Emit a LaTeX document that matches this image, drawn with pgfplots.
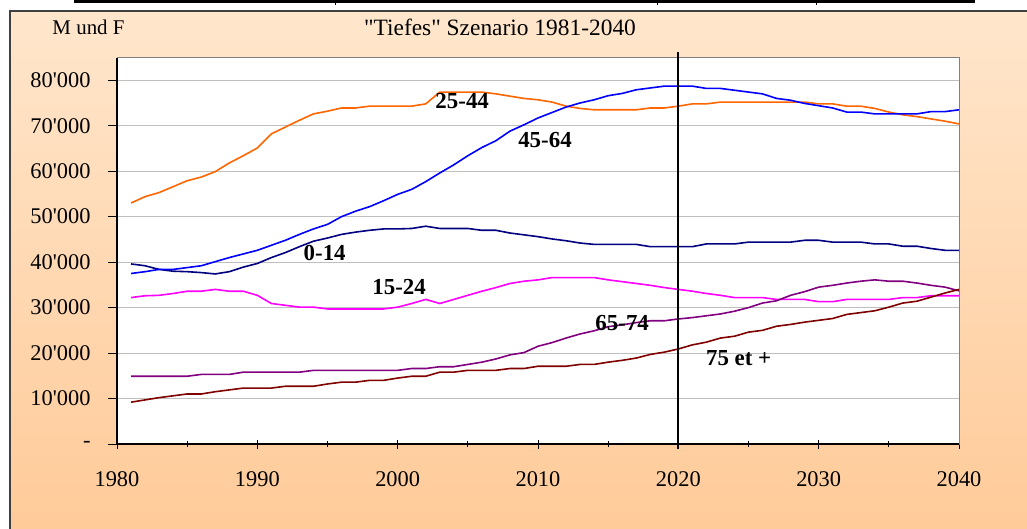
\documentclass[border=0pt]{standalone}
\usepackage{pgfplots}
\pgfplotsset{compat=1.18}
\usepackage{pgfplotstable}
\usepackage{fontspec}
\setmainfont{Liberation Serif}
\newfontfamily\plainfont{Liberation Serif}
\usetikzlibrary{shadings}
\definecolor{peachtop}{HTML}{FFE6CC}
\definecolor{peachbot}{HTML}{FFCA98}
\definecolor{cOrange}{HTML}{FF6600}
\definecolor{cBlue}{HTML}{0000FF}
\definecolor{cNavy}{HTML}{000080}
\definecolor{cMag}{HTML}{FF00FF}
\definecolor{cPurp}{HTML}{800080}
\definecolor{cRed}{HTML}{800000}

\pgfplotstableread{
year a b c d e f
1981 39600 32200 53000 37500 14900 9200
1982 39200 32600 54400 37900 14900 9700
1983 38400 32700 55300 38400 14900 10200
1984 38000 33100 56600 38400 14900 10600
1985 37900 33600 57900 38800 14900 11000
1986 37700 33600 58700 39200 15300 11000
1987 37400 34000 59900 40100 15300 11500
1988 37900 33600 61800 41000 15300 11900
1989 38900 33600 63400 41800 15800 12300
1990 39700 32700 65100 42600 15800 12300
1991 41000 30900 68200 43700 15800 12300
1992 42100 30500 69700 44800 15800 12700
1993 43400 30100 71200 46100 15800 12700
1994 44600 30100 72600 47300 16200 12700
1995 45300 29700 73200 48300 16200 13200
1996 46100 29700 73900 50000 16200 13600
1997 46600 29700 73900 51200 16200 13600
1998 47000 29700 74300 52200 16200 14000
1999 47300 29700 74300 53500 16200 14000
2000 47300 30100 74300 54900 16200 14500
2001 47400 30900 74300 56000 16600 14900
2002 47900 31800 74800 57700 16600 14900
2003 47400 30900 77400 59600 17000 15800
2004 47400 31800 77400 61400 17000 15800
2005 47400 32700 77400 63400 17500 16200
2006 47000 33600 77400 65200 18000 16200
2007 47000 34400 77000 66700 18700 16200
2008 46400 35300 76500 68800 19600 16600
2009 46000 35800 76000 70200 20100 16600
2010 45600 36100 75700 71700 21500 17100
2011 45100 36600 75200 72900 22300 17100
2012 44700 36600 74300 74100 23300 17100
2013 44200 36600 73800 75000 24200 17500
2014 43900 36600 73500 75700 24900 17500
2015 43900 36100 73500 76600 25800 18000
2016 43900 35700 73500 77100 26200 18400
2017 43900 35300 73500 77900 26700 18900
2018 43400 34900 73900 78300 27100 19700
2019 43400 34400 73900 78700 27100 20200
2020 43400 34000 74300 78700 27500 20900
2021 43400 33600 74800 78700 27800 21800
2022 44000 33100 74800 78200 28200 22400
2023 44000 32700 75200 78200 28600 23300
2024 44000 32200 75200 77800 29200 23700
2025 44400 32200 75200 77400 30000 24600
2026 44400 32200 75200 77000 31000 25000
2027 44400 31800 75200 76000 31500 25900
2028 44400 31800 75200 75600 32700 26300
2029 44800 31800 75200 74900 33500 26800
2030 44800 31300 74800 74400 34500 27200
2031 44400 31300 74800 73900 34900 27600
2032 44400 31800 74300 73000 35400 28500
2033 44400 31800 74300 73000 35800 28900
2034 44000 31800 73800 72600 36100 29300
2035 44000 31800 73000 72600 35800 30100
2036 43500 32200 72400 72600 35800 31000
2037 43500 32200 72000 72600 35400 31400
2038 43000 32600 71500 73100 34900 32300
2039 42600 32600 71000 73100 34500 33200
2040 42600 32600 70400 73500 33700 34000
}\datatable

\begin{document}
\begin{tikzpicture}
\useasboundingbox (0bp,0bp) rectangle (1027bp,-529bp);
\fill[white] (0bp,0bp) rectangle (1027bp,-529bp);
\shade[top color=peachtop, bottom color=peachbot] (10bp,-11bp) rectangle (1040bp,-540bp);
\draw[black!75, line width=1.2bp] (10bp,-540bp) -- (10bp,-11bp) -- (1040bp,-11bp);
\draw[black, line width=2.5bp] (74bp,-1.5bp) -- (975bp,-1.5bp);
\foreach \xx in {335,657,816} {\draw[black, line width=1bp] (\xx bp,-1.5bp) -- (\xx bp,-5bp);}
\node[font=\plainfont\fontsize{21}{25}\selectfont] at (88.5bp,-27bp) {M und F};
\node[font=\plainfont\fontsize{23.5}{27}\selectfont] at (500bp,-27bp) {"Tiefes" Szenario 1981-2040};
\begin{axis}[
  at={(117bp,-444bp)}, anchor=south west, scale only axis,
  width=842bp, height=386.5bp,
  xmin=1980, xmax=2040, ymin=0, ymax=85000,
  scaled y ticks=false,
  axis background/.style={fill=white},
  axis line style={draw=black!50, line width=1bp},
  tick pos=left,
  xtick={1980,1990,2000,2010,2020,2030,2040},
  xticklabels={1980,1990,2000,2010,2020,2030,2040},
  minor xtick={1985,1995,2005,2015,2025,2035},
  ytick={0,10000,20000,30000,40000,50000,60000,70000,80000},
  yticklabels={-\hspace{24bp},10'000,20'000,30'000,40'000,50'000,60'000,70'000,80'000},
  xtick align=center, ytick align=outside,
  major tick length=9bp, minor tick length=6bp,
  tick style={black, line width=0.9bp},
  ticklabel style={font=\plainfont\fontsize{22.5}{26}\selectfont},
  xticklabel style={yshift=-20bp},
  yticklabel style={xshift=-14bp},
  ymajorgrids, major grid style={draw=black!25, line width=0.9bp},
  clip=false,
  every axis plot/.append style={line width=1.6bp, no markers},
]
\addplot[cNavy] table[x=year,y=a]{\datatable};
\addplot[cMag] table[x=year,y=b]{\datatable};
\addplot[cOrange] table[x=year,y=c]{\datatable};
\addplot[cBlue] table[x=year,y=d]{\datatable};
\addplot[cPurp] table[x=year,y=e]{\datatable};
\addplot[cRed] table[x=year,y=f]{\datatable};
\draw[black, line width=1.2bp] (rel axis cs:0,0) -- (rel axis cs:1,0);
\draw[black, line width=1.2bp] (rel axis cs:0,0) -- (rel axis cs:0,1);
\draw[black, line width=2bp] (axis cs:2020,86300) -- (axis cs:2020,-1100);
\begin{scope}[every node/.style={font=\plainfont\bfseries\fontsize{23}{27}\selectfont}]
\node at (axis cs:2004.6,75500) {25-44};
\node at (axis cs:2010.5,66900) {45-64};
\node at (axis cs:1994.8,41900) {0-14};
\node at (axis cs:2000.1,34500) {15-24};
\node at (axis cs:2016.0,26700) {65-74};
\node at (axis cs:2024.3,18900) {75 et +};
\end{scope}
\end{axis}
\end{tikzpicture}
\end{document}
